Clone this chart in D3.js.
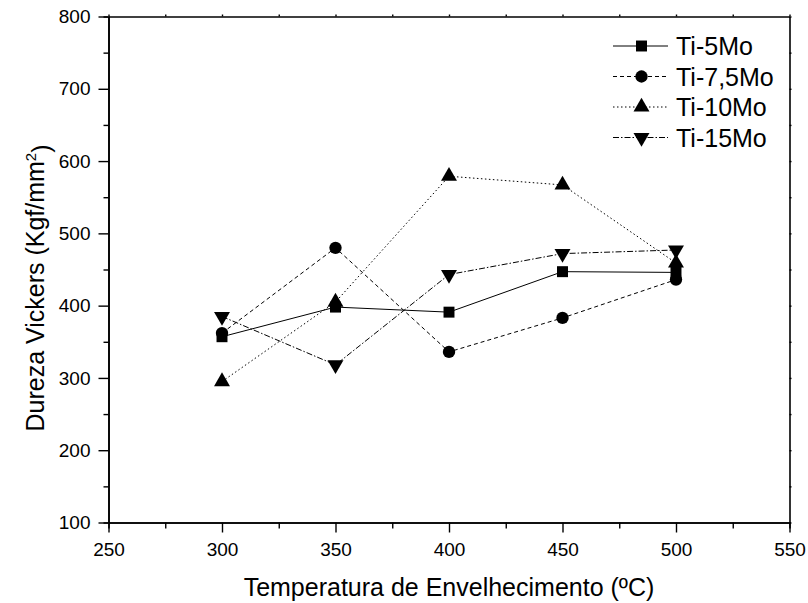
<!DOCTYPE html>
<html>
<head>
<meta charset="utf-8">
<script src="https://cdn.jsdelivr.net/npm/d3@7"></script>
<style>
  body { margin: 0; background: #fff; }
  svg { display: block; font-family: "Liberation Sans", Arial, sans-serif; }
</style>
</head>
<body>
<div id="chart"></div>
<script>
const temperatures = [300, 350, 400, 450, 500];
const seriesNames = ["Ti-5Mo", "Ti-7,5Mo", "Ti-10Mo", "Ti-15Mo"];
const ti5Mo = [357, 398, 391, 447, 446];
const ti75Mo = [362, 480, 336, 383, 436];
const ti10Mo = [295, 405, 579, 567, 459];
const ti15Mo = [385, 318, 443, 472, 477];
const xTicks = [250, 300, 350, 400, 450, 500, 550];
const yTicks = [100, 200, 300, 400, 500, 600, 700, 800];

const width = 808;
const height = 603;
const margin = { top: 16.5, right: 18.5, bottom: 80.5, left: 108.5 };
const innerW = width - margin.left - margin.right;
const innerH = height - margin.top - margin.bottom;

const svg = d3
  .select("#chart")
  .append("svg")
  .attr("width", width)
  .attr("height", height);

const g = svg
  .append("g")
  .attr("transform", "translate(" + margin.left + "," + margin.top + ")");

const x = d3.scaleLinear().domain([250, 550]).range([0, innerW]);
const y = d3.scaleLinear().domain([100, 800]).range([innerH, 0]);

const minorX = d3.range(275, 550, 50);
const minorY = d3.range(150, 800, 100);

function styleAxis(sel) {
  sel.select(".domain").attr("stroke", "#000").attr("stroke-width", 1.6);
  sel.selectAll(".tick line").attr("stroke", "#000").attr("stroke-width", 1.4);
  sel.selectAll(".tick text")
    .attr("fill", "#000")
    .style("font-size", "19px")
    .style("font-family", "Liberation Sans, Arial, sans-serif");
}

// bottom axis with labels
g.append("g")
  .attr("transform", "translate(0," + innerH + ")")
  .call(d3.axisBottom(x).tickValues(xTicks).tickSizeInner(10).tickSizeOuter(0).tickPadding(10).tickFormat(d3.format("d")))
  .call(styleAxis);
g.append("g")
  .attr("transform", "translate(0," + innerH + ")")
  .call(d3.axisBottom(x).tickValues(minorX).tickSize(6).tickFormat(""))
  .call(styleAxis);

// left axis with labels
g.append("g")
  .call(d3.axisLeft(y).tickValues(yTicks).tickSizeInner(10).tickSizeOuter(0).tickPadding(8).tickFormat(d3.format("d")))
  .call(styleAxis);
g.append("g")
  .call(d3.axisLeft(y).tickValues(minorY).tickSize(5).tickFormat(""))
  .call(styleAxis);

// top and right frame with tiny ticks
g.append("g")
  .call(d3.axisTop(x).tickValues(xTicks.concat(minorX)).tickSize(2).tickSizeOuter(0).tickFormat(""))
  .call(styleAxis);
g.append("g")
  .attr("transform", "translate(" + innerW + ",0)")
  .call(d3.axisRight(y).tickValues(yTicks.concat(minorY)).tickSize(2).tickSizeOuter(0).tickFormat(""))
  .call(styleAxis);

const series = [
  { name: seriesNames[0], values: ti5Mo, dash: null, symbol: d3.symbolSquare, size: 120, rot: 0 },
  { name: seriesNames[1], values: ti75Mo, dash: "4,3", symbol: d3.symbolCircle, size: 120, rot: 0 },
  { name: seriesNames[2], values: ti10Mo, dash: "1.5,2.5", symbol: d3.symbolTriangle, size: 110, rot: 0 },
  { name: seriesNames[3], values: ti15Mo, dash: "6,2,1.5,2", symbol: d3.symbolTriangle, size: 110, rot: 180 }
];

const line = d3
  .line()
  .x((d) => x(d.t))
  .y((d) => y(d.v));

series.forEach((s) => {
  const pts = temperatures.map((t, i) => ({ t: t, v: s.values[i] }));
  g.append("path")
    .datum(pts)
    .attr("fill", "none")
    .attr("stroke", "#000")
    .attr("stroke-width", 1)
    .attr("stroke-dasharray", s.dash)
    .attr("d", line);
});

series.forEach((s) => {
  const pts = temperatures.map((t, i) => ({ t: t, v: s.values[i] }));
  g.selectAll(null)
    .data(pts)
    .enter()
    .append("path")
    .attr("d", d3.symbol().type(s.symbol).size(s.size))
    .attr("transform", (d) => "translate(" + x(d.t) + "," + y(d.v) + ") rotate(" + s.rot + ")")
    .attr("fill", "#000");
});

// legend
const legend = svg.append("g").attr("transform", "translate(613,46)");
series.forEach((s, i) => {
  const row = legend.append("g").attr("transform", "translate(0," + i * 30.5 + ")");
  row.append("line")
    .attr("x1", 0).attr("x2", 55)
    .attr("y1", 0).attr("y2", 0)
    .attr("stroke", "#000")
    .attr("stroke-width", 1)
    .attr("stroke-dasharray", s.dash);
  row.append("path")
    .attr("d", d3.symbol().type(s.symbol).size(s.size))
    .attr("transform", "translate(28.5,0) rotate(" + s.rot + ")")
    .attr("fill", "#000");
  row.append("text")
    .attr("x", 63)
    .attr("y", 0)
    .attr("dy", "0.36em")
    .style("font-size", "25px")
    .text(s.name);
});

// axis titles
svg.append("text")
  .attr("x", margin.left + innerW / 2)
  .attr("y", 596)
  .attr("text-anchor", "middle")
  .style("font-size", "25px")
  .text("Temperatura de Envelhecimento (ºC)");

const yTitle = svg.append("text")
  .attr("transform", "translate(44,288) rotate(-90)")
  .attr("text-anchor", "middle")
  .style("font-size", "25px");
yTitle.append("tspan").text("Dureza Vickers (Kgf/mm");
yTitle.append("tspan").attr("dy", "-0.55em").style("font-size", "15px").text("2");
yTitle.append("tspan").attr("dy", "0.55em").text(")");
</script>
</body>
</html>
